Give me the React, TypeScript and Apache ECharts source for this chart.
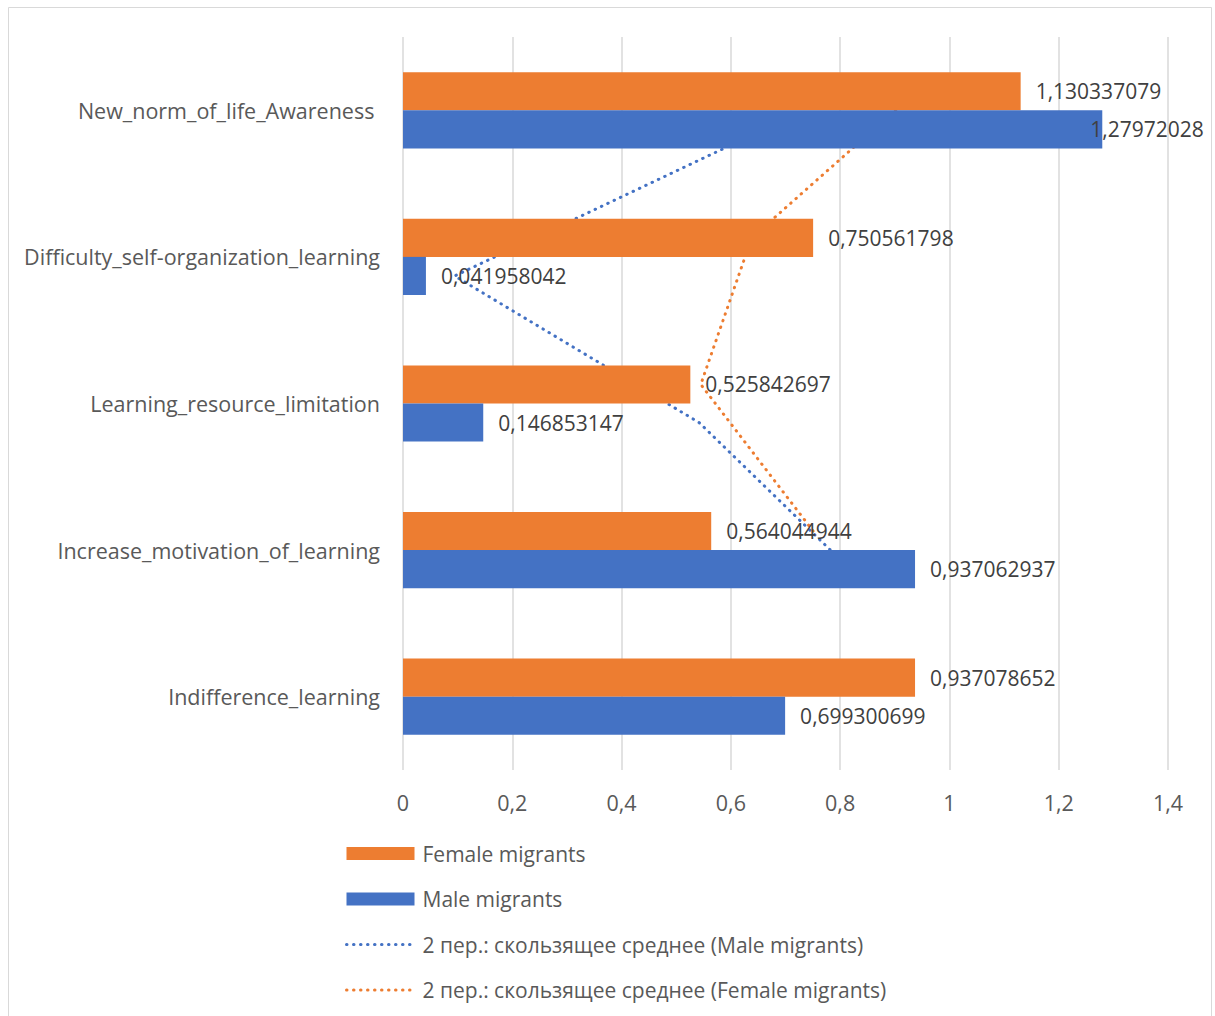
import React, { useEffect, useRef } from "react";
import * as echarts from "echarts";

// Categories in Excel order (bottom to top on the chart)
const categories = [
  "Indifference_learning",
  "Increase_motivation_of_learning",
  "Learning_resource_limitation",
  "Difficulty_self-organization_learning",
  "New_norm_of_life_Awareness ",
];
const maleValues = [0.699300699, 0.937062937, 0.146853147, 0.041958042, 1.27972028];
const femaleValues = [0.937078652, 0.564044944, 0.525842697, 0.750561798, 1.130337079];
const xTicks = { min: 0, max: 1.4, interval: 0.2 };
const maPeriod = 2;

const seriesNames = {
  female: "Female migrants",
  male: "Male migrants",
  maleMA: "2 пер.: скользящее среднее (Male migrants)",
  femaleMA: "2 пер.: скользящее среднее (Female migrants)",
};

const FONT = "Open Sans";
const FS_AXIS = 21.5;
const FS_LABEL = 21;
const FS_LEGEND = 21;
const TEXT = "#595959";
const ORANGE = "#ED7D31";
const BLUE = "#4472C4";
const BAR_FRAC = 0.26; // bar thickness as a fraction of the category band

const comma = (v: number) => String(+v.toFixed(10)).replace(".", ",");

// 2-period moving average placed on each category (as Excel does)
function movingAverage(values: number[], offset: number) {
  const out: number[][] = [];
  for (let j = maPeriod - 1; j < values.length; j++) {
    let s = 0;
    for (let k = 0; k < maPeriod; k++) s += values[j - k];
    out.push([s / maPeriod, j + 0.5 + offset]);
  }
  return out;
}

export default function App() {
  const ref = useRef<HTMLDivElement>(null);
  useEffect(() => {
    document.body.style.margin = "0";
    const chart = echarts.init(ref.current!, null, { renderer: "svg" });
    const labelBase = {
      show: true,
      position: "right" as const,
      distance: 15,
      color: "#404040",
      fontFamily: FONT,
      fontSize: FS_LABEL,
      formatter: (p: any) => comma(Array.isArray(p.value) ? p.value[0] : p.value),
    };
    const maxVal = xTicks.max;
    const barData = (vals: number[]) =>
      vals.map((v) =>
        v / maxVal > 0.9 ? { value: v, label: { offset: [-27, 0] } } : { value: v }
      );
    const dotted = (color: string) => ({
      color,
      width: 3,
      type: [0.5, 6.5],
      cap: "round" as const,
    });
    chart.setOption({
      animation: false,
      textStyle: { fontFamily: FONT, color: TEXT },
      graphic: [
        {
          type: "rect",
          shape: { x: 8.5, y: 7.5, width: 1203, height: 1030 },
          style: { fill: "none", stroke: "#d9d9d9", lineWidth: 1 },
          silent: true,
        },
      ],
      legend: {
        orient: "vertical",
        left: 340,
        top: 838,
        itemWidth: 68,
        itemHeight: 13,
        itemGap: 24.5,
        textStyle: {
          fontFamily: FONT,
          fontSize: FS_LEGEND,
          color: TEXT,
          padding: [0, 0, 0, 3],
        },
        data: [
          { name: seriesNames.female, icon: "rect" },
          { name: seriesNames.male, icon: "rect" },
          { name: seriesNames.maleMA, itemStyle: { opacity: 0 }, lineStyle: { width: 3 } },
          { name: seriesNames.femaleMA, itemStyle: { opacity: 0 }, lineStyle: { width: 3 } },
        ],
      },
      grid: { left: 403, right: 47, top: 37, bottom: 246, containLabel: false },
      xAxis: {
        type: "value",
        min: xTicks.min,
        max: xTicks.max,
        interval: xTicks.interval,
        axisLine: { show: false },
        axisTick: { show: false },
        splitLine: { lineStyle: { color: "#d9d9d9", width: 1.5 } },
        axisLabel: {
          margin: 21,
          fontSize: FS_AXIS,
          color: TEXT,
          fontFamily: FONT,
          formatter: (v: number) => comma(v),
        },
      },
      yAxis: [
        {
          type: "category",
          data: categories,
          axisLine: { show: false },
          axisTick: { show: false },
          axisLabel: { margin: 23, fontSize: FS_AXIS, color: TEXT, fontFamily: FONT },
        },
        {
          type: "value",
          min: 0,
          max: categories.length,
          show: false,
          splitLine: { show: false },
        },
      ],
      series: [
        {
          name: seriesNames.maleMA,
          type: "line",
          yAxisIndex: 1,
          z: 1,
          symbol: "none",
          data: movingAverage(maleValues, -BAR_FRAC / 2),
          lineStyle: dotted(BLUE),
          itemStyle: { color: BLUE },
        },
        {
          name: seriesNames.femaleMA,
          type: "line",
          yAxisIndex: 1,
          z: 1,
          symbol: "none",
          data: movingAverage(femaleValues, BAR_FRAC / 2),
          lineStyle: dotted(ORANGE),
          itemStyle: { color: ORANGE },
        },
        {
          name: seriesNames.female,
          type: "bar",
          z: 3,
          data: barData(femaleValues),
          barWidth: `${BAR_FRAC * 100}%`,
          barGap: "0%",
          itemStyle: { color: ORANGE },
          label: labelBase,
        },
        {
          name: seriesNames.male,
          type: "bar",
          z: 3,
          data: barData(maleValues),
          barWidth: `${BAR_FRAC * 100}%`,
          barGap: "0%",
          itemStyle: { color: BLUE },
          label: labelBase,
        },
      ],
    });
    return () => chart.dispose();
  }, []);
  return <div ref={ref} style={{ width: 1215, height: 1016 }} />;
}
